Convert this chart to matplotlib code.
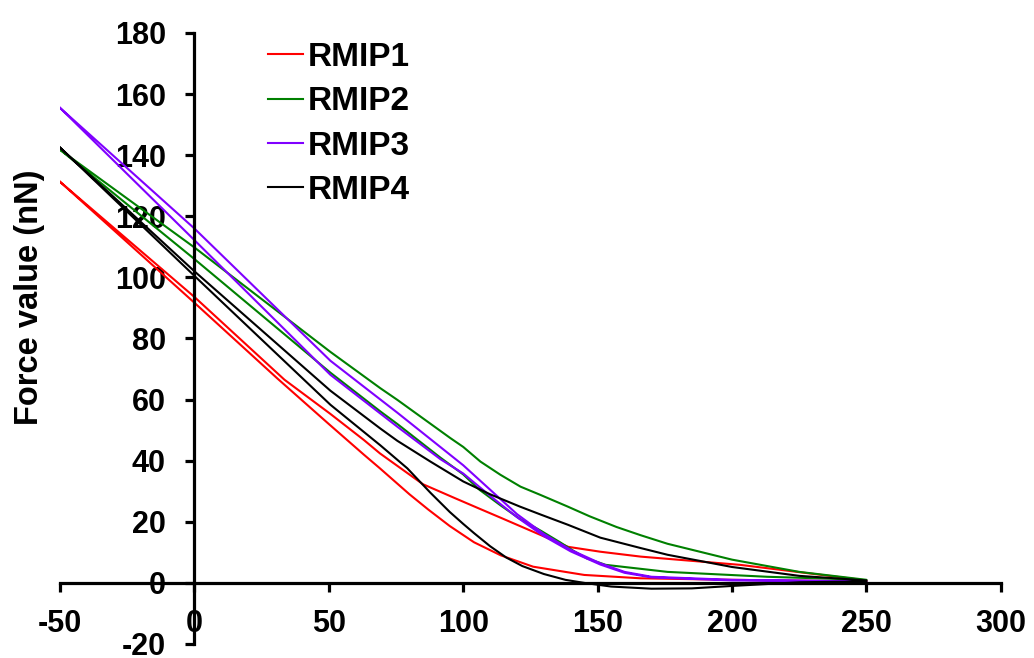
import matplotlib
matplotlib.use("Agg")
import matplotlib.pyplot as plt

plt.rcParams["font.family"] = ["Liberation Sans", "DejaVu Sans"]
plt.rcParams["font.weight"] = "bold"

# Force-distance loops: approach branch (lower) and retract branch (upper)
rmip1_approach_x = [-50, 0, 31, 50, 63, 69, 80, 87, 95, 104, 114, 126, 145, 166, 200, 250]
rmip1_approach_y = [131.3, 91.7, 66.8, 52.0, 42.0, 37.5, 29.0, 24.0, 18.6, 13.3, 9.0, 5.3, 2.6, 1.5, 1.0, 0.5]
rmip1_retract_x = [-50, 0, 33.5, 50.6, 63, 69, 85, 97, 106, 114, 129, 139, 151, 166, 203, 250]
rmip1_retract_y = [131.3, 93.6, 66.5, 55.3, 46.8, 42.4, 32.3, 27.7, 24.3, 21.3, 15.6, 11.8, 10.2, 8.6, 5.9, 0.8]

rmip2_approach_x = [-50, 0, 50.6, 69.2, 75.5, 91.5, 100, 106, 114, 121, 129, 136, 141, 146, 153, 166, 176, 213, 250]
rmip2_approach_y = [141.8, 106.0, 68.8, 56.1, 52.0, 41.0, 35.5, 30.5, 25.3, 21.0, 17.0, 13.3, 10.5, 8.0, 5.9, 4.6, 3.6, 2.0, 1.0]
rmip2_retract_x = [-50, 0, 50.6, 69.2, 75.5, 95.2, 100, 106.4, 113.8, 121.3, 128.7, 138.8, 147, 157, 166, 176, 200, 225, 250]
rmip2_retract_y = [141.8, 109.8, 75.6, 63.7, 59.9, 47.4, 44.5, 39.7, 35.4, 31.5, 28.8, 25.0, 21.8, 18.3, 15.6, 12.8, 7.6, 3.6, 1.0]

rmip3_approach_x = [-50, 0, 50.6, 75.5, 91.5, 100, 110, 120, 130, 140, 151, 160, 170, 200, 250]
rmip3_approach_y = [155.5, 112.2, 68.1, 51.1, 40.5, 35.8, 28.5, 21.5, 15.3, 10.3, 6.0, 3.3, 1.8, 0.8, 0.5]
rmip3_retract_x = [-50, 0, 50.6, 75.5, 100, 110, 120, 130, 140, 151, 160, 170, 200, 250]
rmip3_retract_y = [155.5, 116.0, 72.7, 55.7, 38.5, 30.5, 22.5, 16.0, 10.8, 6.4, 3.6, 2.0, 1.0, 0.5]

rmip4_approach_x = [-50, 0, 50.6, 69.2, 79.2, 87.8, 95, 100, 104, 110, 116, 122, 130, 138, 145, 155, 170, 185, 200, 225, 250]
rmip4_approach_y = [142.5, 100.5, 58.3, 45.0, 37.5, 29.5, 23.2, 19.3, 16.3, 12.0, 8.3, 5.5, 2.9, 1.0, 0.0, -1.2, -1.9, -1.8, -1.0, 0.2, 0.5]
rmip4_retract_x = [-50, 0, 50.6, 69.2, 75.5, 87.8, 100, 110, 121, 129, 139, 151, 166, 176, 200, 225, 250]
rmip4_retract_y = [142.5, 102.0, 62.9, 50.5, 46.5, 39.7, 33.2, 29.0, 25.0, 22.3, 19.0, 14.8, 11.4, 9.2, 5.2, 2.3, 0.8]

series_labels = ["RMIP1", "RMIP2", "RMIP3", "RMIP4"]
series_colors = ["#FF0000", "#008000", "#8000FF", "#000000"]
x_ticks = [-50, 0, 50, 100, 150, 200, 250, 300]
y_ticks = [-20, 0, 20, 40, 60, 80, 100, 120, 140, 160, 180]

branches = [
    (rmip1_approach_x, rmip1_approach_y, rmip1_retract_x, rmip1_retract_y),
    (rmip2_approach_x, rmip2_approach_y, rmip2_retract_x, rmip2_retract_y),
    (rmip3_approach_x, rmip3_approach_y, rmip3_retract_x, rmip3_retract_y),
    (rmip4_approach_x, rmip4_approach_y, rmip4_retract_x, rmip4_retract_y),
]

fig = plt.figure(figsize=(10.34, 6.58), dpi=100)
ax = fig.add_axes([0.058, 0.0213, 0.910, 0.9286])

for (ax_, ay_, rx_, ry_), lab, col in zip(branches, series_labels, series_colors):
    # closed loop: approach out to 250, retract back to -50
    xs = list(ax_) + list(rx_[::-1])
    ys = list(ay_) + list(ry_[::-1])
    ax.plot(xs, ys, color=col, lw=1.5, label=lab, solid_joinstyle="round")

ax.set_xlim(-50, 300)
ax.set_ylim(-20, 180)
ax.set_xticks(x_ticks)
ax.set_yticks(y_ticks)
ax.set_xticklabels([str(v) for v in x_ticks])
ax.set_yticklabels([str(v) for v in y_ticks])

for side in ("top", "right"):
    ax.spines[side].set_visible(False)
ax.spines["left"].set_position(("data", 0))
ax.spines["bottom"].set_position(("data", 0))
for side in ("left", "bottom"):
    ax.spines[side].set_linewidth(2.3)
    ax.spines[side].set_zorder(3)

ax.tick_params(axis="both", direction="out", length=6.5, width=2.3, labelsize=22)
ax.tick_params(axis="x", pad=12)
ax.tick_params(axis="y", pad=14)
for t in ax.get_xticklabels() + ax.get_yticklabels():
    t.set_fontweight("bold")

fig.text(30 / 1034, 1 - 297 / 658, "Force value (nN)", rotation=90,
         ha="center", va="center", fontsize=23.5, fontweight="bold")

leg = ax.legend(loc="upper left", bbox_to_anchor=(268 / 1034, 1 - 42 / 658),
                bbox_transform=fig.transFigure, frameon=False, borderpad=0,
                borderaxespad=0, handlelength=1.05, handletextpad=0.15,
                labelspacing=0.4, prop={"size": 24, "weight": "bold"})

fig.savefig("out.png", dpi=100)
